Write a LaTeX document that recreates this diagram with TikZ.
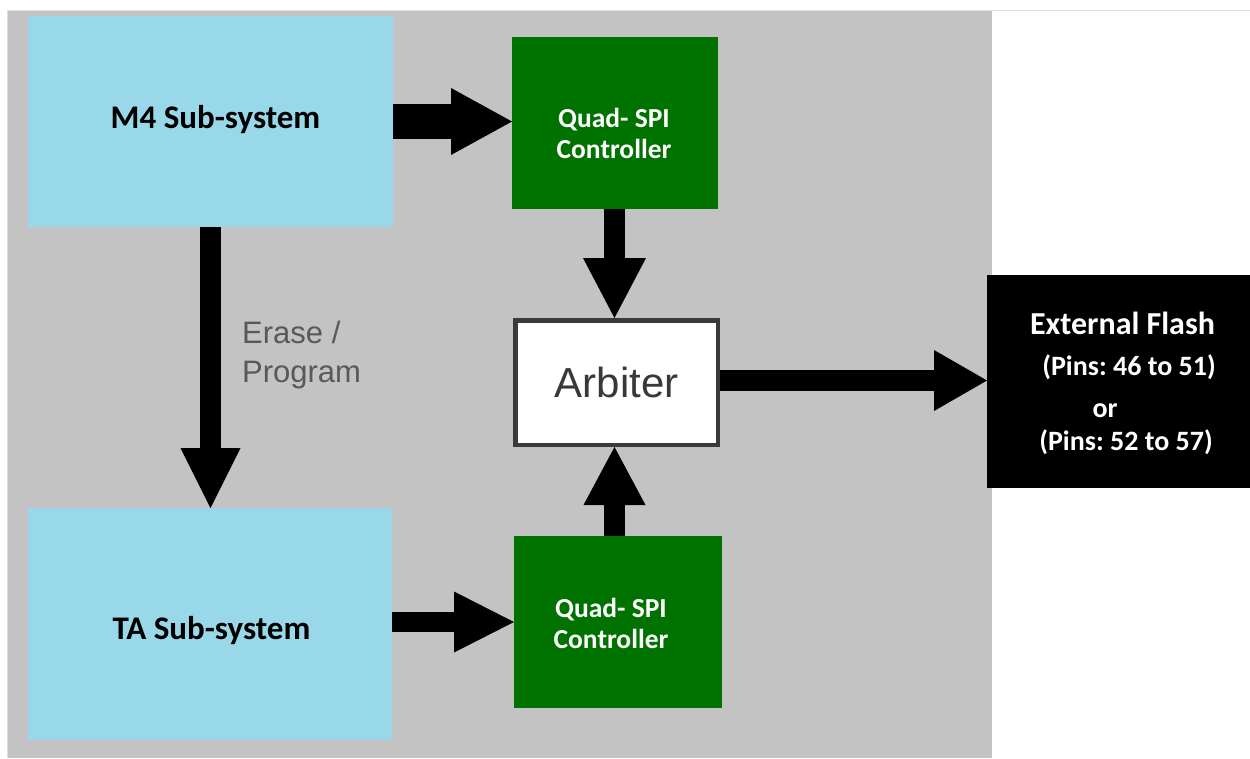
\documentclass[tikz,border=0pt]{standalone}
\usepackage{fontspec}
\usetikzlibrary{arrows.meta,calc}
\newfontfamily\calfont{Carlito}
\newfontfamily\arialfont{Liberation Sans}
\frenchspacing
\definecolor{panelgray}{RGB}{195,195,195}
\definecolor{framegray}{RGB}{222,222,222}
\definecolor{skyblue}{RGB}{153,216,233}
\definecolor{ctrlgreen}{RGB}{0,114,0}
\definecolor{arbedge}{RGB}{58,58,58}
\definecolor{arbtext}{RGB}{56,56,56}
\definecolor{notegray}{RGB}{89,89,89}
\tikzset{
  block/.style={inner sep=0pt, outer sep=0pt, align=center},
  subsys/.style={block, fill=skyblue},
  subsystext/.style={inner sep=0pt, anchor=base, font=\calfont\bfseries\fontsize{33}{38}\selectfont},
  ctrl/.style={block, fill=ctrlgreen, minimum width=207pt, minimum height=172pt},
  ctrltext/.style={inner sep=0pt, align=center, anchor=base, text=white, font=\calfont\bfseries\fontsize{27.5}{31}\selectfont},
  flashtext/.style={inner sep=0pt, anchor=base, text=white, font=\calfont\bfseries\fontsize{28}{34}\selectfont},
  blockarrow/.style n args={3}{draw=black, line width=#1,
    -{Triangle[length=#2, width=#3, line width=0pt]}},
}
\begin{document}
\begin{tikzpicture}[x=1pt,y=-1pt]
\useasboundingbox (0,0) rectangle (1250,758);
% backdrop panel and its frame
\fill[panelgray] (7,10) rectangle (992,758);
\draw[framegray, line width=1.5pt] (7.5,758) -- (7.5,10.5) -- (1250,10.5);

% blocks
\node[subsys, minimum width=365pt, minimum height=211pt] (m4) at (210.5,121.5) {};
\node[subsys, minimum width=364pt, minimum height=232pt] (ta) at (210,624) {};
\node[subsystext] (m4t) at (215.5,128) {M4 Sub-system};
\node[subsystext] (tat) at (211.5,639) {TA Sub-system};
\node[ctrl, minimum width=206pt] (q1) at (615,123) {};
\node[ctrl, minimum width=208pt] (q2) at (618,622) {};
\node[ctrltext] (q1t) at (614,158) {Quad- SPI\\Controller};
\node[ctrltext] (q2t) at (611,648) {Quad- SPI\\Controller};
\node[draw=arbedge, fill=white, line width=4.5pt, inner sep=0pt,
      minimum width=202.5pt, minimum height=124.5pt, text=arbtext,
      font=\arialfont\fontsize{42}{48}\selectfont] (arb) at (616.5,382.5) {Arbiter};
\node[fill=black, inner sep=0pt, outer sep=0pt, minimum width=263pt, minimum height=213pt] (flash) at (1118.5,381.5) {};
\node[flashtext, font=\calfont\bfseries\fontsize{32}{36}\selectfont] (fl1) at (1122.5,334) {External Flash};
\node[flashtext] (fl2) at (1129,375) {(Pins: 46 to 51)};
\node[flashtext] (fl3) at (1105,417) {or};
\node[flashtext] (fl4) at (1126,450) {(Pins: 52 to 57)};

% connectors
\draw[blockarrow={35pt}{61pt}{67pt}] (m4.east) -- (m4.east -| q1.west);
\draw[blockarrow={20pt}{60pt}{61pt}] ($(ta.east)+(0,-2)$) -- ($(ta.east -| q2.west)+(0,-2)$);
\draw[blockarrow={21pt}{60pt}{63pt}] ($(q1.south)+(-0.5,0)$) -- ($(q1.south |- arb.north)+(-0.5,0)$);
\draw[blockarrow={21pt}{58pt}{62pt}] ($(q2.north)+(-3.5,0)$) -- ($(q2.north |- arb.south)+(-3.5,0)$);
\draw[blockarrow={21pt}{53pt}{61pt}] ($(arb.east)+(0,-2)$) -- ($(arb.east -| flash.west)+(0,-2)$);
\draw[blockarrow={21pt}{60pt}{60pt}] (m4.south) -- (m4.south |- ta.north);

% label beside the vertical connector
\node[anchor=base west, inner sep=0pt, align=left, text=notegray,
      font=\arialfont\fontsize{31}{39}\selectfont] (ep) at (242,382) {Erase /\\Program};
\end{tikzpicture}
\end{document}
